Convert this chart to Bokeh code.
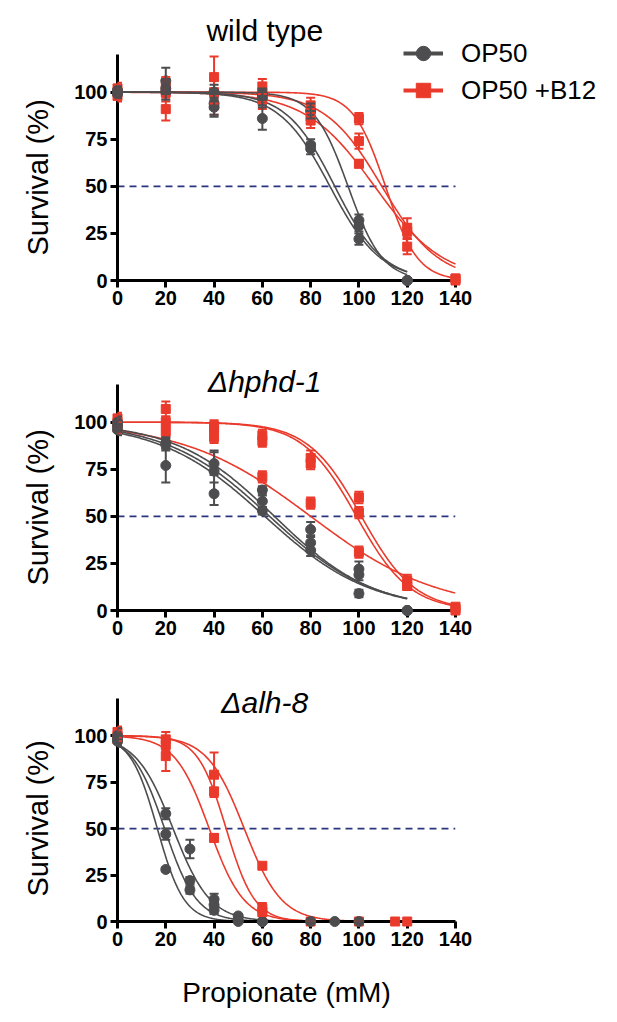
import numpy as np
from bokeh.plotting import figure
from bokeh.models import (ColumnDataSource, Whisker, TeeHead, Label, Title,
                          Legend, LegendItem, FixedTicker, Range1d)
from bokeh.layouts import column
from bokeh.embed import file_html
from bokeh.resources import INLINE

# ---------------- data ----------------
x_ticks = [0, 20, 40, 60, 80, 100, 120, 140]
y_ticks = [0, 25, 50, 75, 100]
y_axis_max = 120
half_survival = 50

# wild type
wt_op50_x   = [0, 0, 0, 20, 20, 20, 40, 40, 40, 60, 60, 60, 80, 80, 80, 100, 100, 100, 120, 120, 120]
wt_op50_y   = [100, 99, 101, 100, 106, 102, 100, 94, 92, 99, 97, 86, 90, 72, 70, 32, 29, 22, 0, 0, 0]
wt_op50_err = [3, 2, 2, 4, 7, 3, 4, 6, 5, 3, 4, 6, 4, 3, 3, 3, 3, 3, 0, 0, 0]
wt_b12_x    = [0, 0, 0, 20, 20, 20, 40, 40, 40, 60, 60, 60, 80, 80, 80, 100, 100, 100, 120, 120, 120, 140, 140, 140]
wt_b12_y    = [100, 98, 102, 100, 103, 91, 100, 108, 93, 100, 103, 96, 93, 87, 85, 86, 74, 62, 28, 26, 18, 1, 1, 0]
wt_b12_err  = [4, 3, 3, 5, 5, 6, 6, 11, 5, 5, 4, 5, 4, 4, 4, 3, 4, 2, 5, 4, 4, 2, 1, 0]
# fitted sigmoid parameters per replicate (midpoint mM, steepness 1/mM), fit range end
wt_op50_mid = [88.0, 90.0, 95.5]
wt_op50_k   = [0.095, 0.10, 0.14]
wt_op50_end = 120
wt_b12_mid  = [111.0, 106.5, 109.5]
wt_b12_k    = [0.15, 0.07, 0.085]
wt_b12_end  = 140

# delta hphd-1
hp_op50_x   = [0, 0, 0, 20, 20, 20, 40, 40, 40, 60, 60, 60, 80, 80, 80, 100, 100, 100, 120, 120, 120]
hp_op50_y   = [100, 98, 96, 89, 88, 77, 78, 74, 62, 64, 58, 53, 43, 36, 32, 22, 19, 9, 0, 0, 0]
hp_op50_err = [3, 3, 3, 3, 3, 9, 6, 11, 6, 2, 3, 2, 4, 4, 3, 4, 3, 2, 0, 0, 0]
hp_b12_x    = [0, 0, 0, 20, 20, 20, 40, 40, 40, 60, 60, 60, 80, 80, 80, 100, 100, 100, 120, 120, 120, 140, 140, 140]
hp_b12_y    = [102, 100, 97, 107, 100, 95, 98, 97, 92, 93, 90, 71, 81, 78, 57, 60, 52, 31, 16, 14, 13, 2, 1, 0]
hp_b12_err  = [3, 3, 3, 4, 3, 3, 3, 2, 3, 3, 3, 3, 4, 3, 3, 3, 3, 3, 3, 3, 2, 1, 1, 0]
hp_op50_mid = [61.0, 63.0, 65.0]
hp_op50_k   = [0.046, 0.047, 0.049]
hp_op50_end = 120
hp_b12_mid  = [99.0, 101.0, 80.0]
hp_b12_k    = [0.09, 0.09, 0.038]
hp_b12_end  = 140

# delta alh-8
al_op50_x   = [0, 0, 0, 20, 20, 20, 30, 30, 30, 40, 40, 40, 50, 50, 50, 60, 60, 60, 80, 90, 100]
al_op50_y   = [100, 98, 97, 58, 47, 28, 39, 22, 17, 12, 9, 6, 3, 1, 0, 0, 0, 0, 0, 0, 0]
al_op50_err = [4, 3, 3, 3, 3, 1, 5, 2, 2, 3, 2, 2, 1, 1, 0, 0, 0, 0, 0, 0, 0]
al_b12_x    = [0, 0, 0, 20, 20, 20, 40, 40, 40, 60, 60, 60, 80, 100, 115, 120]
al_b12_y    = [102, 100, 98, 98, 95, 89, 79, 70, 45, 30, 7, 5, 0, 0, 0, 0]
al_b12_err  = [3, 3, 3, 4, 3, 8, 12, 2, 2, 1, 3, 2, 0, 0, 0, 0]
al_op50_mid = [16.5, 19.5, 23.0]
al_op50_k   = [0.18, 0.15, 0.13]
al_op50_end = 100
al_b12_mid  = [38.0, 45.0, 52.5]
al_b12_k    = [0.14, 0.17, 0.13]
al_b12_end  = 120

# ---------------- style ----------------
FONT = "Liberation Sans"
GRAY = "#4d4d4f"
RED = "#ea3a2c"
NAVY = "#2a347f"
PX_PER_MM = 338 / 140.0
HAS_STANDOFF = "standoff" in Title.properties()


def add_series(p, xs, ys, errs, mids, ks, end, color, marker, size):
    # fitted curves
    for mid, k in zip(mids, ks):
        cx = np.linspace(0, end, 300)
        cy = 100.0 / (1.0 + np.exp(k * (cx - mid)))
        p.line(cx, cy, line_color=color, line_width=1.6)
    lo = [y - e for y, e in zip(ys, errs)]
    hi = [y + e for y, e in zip(ys, errs)]
    src = ColumnDataSource(dict(x=xs, y=ys, lo=lo, hi=hi))
    w = Whisker(base="x", lower="lo", upper="hi", source=src, dimension="height",
                line_color=color, line_width=2, level="overlay",
                lower_head=TeeHead(size=9, line_color=color, line_width=2),
                upper_head=TeeHead(size=9, line_color=color, line_width=2))
    p.add_layout(w)
    p.scatter("x", "y", source=src, marker=marker, size=size,
              fill_color=color, line_color=color, level="overlay")


def make_panel(title, title_y, italic, border_top, frame_w, frame_h, px_per_pct,
               border_bottom, op50, b12, xlabel=False, legend=False):
    x_end = frame_w / PX_PER_MM
    y_end = frame_h / px_per_pct
    p = figure(frame_width=frame_w, frame_height=frame_h,
               min_border_left=117, min_border_right=617 - 117 - frame_w,
               min_border_top=border_top, min_border_bottom=border_bottom,
               x_range=Range1d(0, x_end), y_range=Range1d(0, y_end),
               output_backend="svg", toolbar_location=None)
    p.grid.visible = False
    p.outline_line_color = None
    p.xaxis.ticker = FixedTicker(ticks=x_ticks)
    p.yaxis.ticker = FixedTicker(ticks=y_ticks)
    p.xaxis.bounds = (x_ticks[0], x_ticks[-1])
    p.yaxis.bounds = (0, y_axis_max)
    for ax in (p.xaxis[0], p.yaxis[0]):
        ax.axis_line_width = 3
        ax.axis_line_color = "black"
        ax.major_tick_line_width = 3
        ax.major_tick_line_color = "black"
        ax.major_tick_out = 7
        ax.major_tick_in = 0
        ax.minor_tick_line_color = None
        ax.major_label_text_font = FONT
        ax.major_label_text_font_style = "bold"
        ax.major_label_text_font_size = "20px"
        ax.major_label_text_color = "black"
        ax.major_label_standoff = 3
        ax.axis_label_text_font = FONT
        ax.axis_label_text_font_style = "normal"
        ax.axis_label_text_font_size = "28px"
        ax.axis_label_text_color = "black"
    # y label as a left-side title, positioned from the bottom of the frame
    ylab = Title(text="Survival (%)", align="left", offset=25,
                 text_font=FONT, text_font_size="29px",
                 text_font_style="normal", text_color="black")
    if HAS_STANDOFF:
        ylab.standoff = 35
    p.add_layout(ylab, "left")
    if xlabel:
        p.xaxis.axis_label = "Propionate (mM)"
        p.xaxis.axis_label_standoff = 28

    # 50 % reference line across the concentration axis
    p.line([x_ticks[0], x_ticks[-1]], [half_survival, half_survival],
           line_color=NAVY, line_width=1.6, line_dash="7 5")

    add_series(p, *b12, RED, "square", 9)
    add_series(p, *op50, GRAY, "circle", 10)

    p.add_layout(Label(x=61, y=title_y, text=title, text_align="center",
                       text_baseline="alphabetic", text_font=FONT,
                       text_font_size="30px",
                       text_font_style="italic" if italic else "normal",
                       text_color="black", level="overlay"))
    if legend:
        nan2 = [np.nan, np.nan]
        lg_gl = p.line(nan2, nan2, line_color=GRAY, line_width=4)
        lg_gp = p.scatter(nan2, nan2, marker="circle", size=14, fill_color=GRAY, line_color=GRAY)
        lg_rl = p.line(nan2, nan2, line_color=RED, line_width=4)
        lg_rp = p.scatter(nan2, nan2, marker="square", size=14, fill_color=RED, line_color=RED)
        leg = Legend(items=[LegendItem(label="OP50", renderers=[lg_gl, lg_gp]),
                            LegendItem(label="OP50 +B12", renderers=[lg_rl, lg_rp])],
                     location=(286, 172), glyph_width=40, glyph_height=36,
                     label_standoff=18, spacing=1, padding=0, margin=0,
                     border_line_color=None, background_fill_alpha=0,
                     label_text_font=FONT, label_text_font_size="26px",
                     label_text_color="black", level="overlay")
        p.add_layout(leg)
    return p


p1 = make_panel("wild type", 133.0, False, 12, 495, 268, 226 / 120.0, 60,
                (wt_op50_x, wt_op50_y, wt_op50_err, wt_op50_mid, wt_op50_k, wt_op50_end),
                (wt_b12_x, wt_b12_y, wt_b12_err, wt_b12_mid, wt_b12_k, wt_b12_end),
                legend=True)
p2 = make_panel("\u0394hphd-1", 121.6, True, 25, 338, 245, 226 / 120.0, 50,
                (hp_op50_x, hp_op50_y, hp_op50_err, hp_op50_mid, hp_op50_k, hp_op50_end),
                (hp_b12_x, hp_b12_y, hp_b12_err, hp_b12_mid, hp_b12_k, hp_b12_end))
p3 = make_panel("\u0394alh-8", 117.6, True, 22, 338, 239, 223 / 120.0, 93,
                (al_op50_x, al_op50_y, al_op50_err, al_op50_mid, al_op50_k, al_op50_end),
                (al_b12_x, al_b12_y, al_b12_err, al_b12_mid, al_b12_k, al_b12_end),
                xlabel=True)

layout = column(p1, p2, p3, spacing=0)
open("out.html", "w").write(file_html(layout, INLINE))
